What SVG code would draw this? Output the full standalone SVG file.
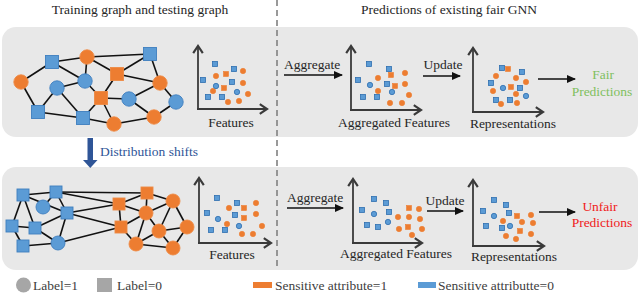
<svg xmlns="http://www.w3.org/2000/svg" xmlns:xlink="http://www.w3.org/1999/xlink" width="640" height="294" viewBox="0 0 640 294">
<style>
text{font-family:"Liberation Serif","Times New Roman",serif;font-size:13.5px;fill:#262626}
.panel{fill:#e8e8e8}
.edge{stroke:#111;stroke-width:1.6}
.axis{stroke:#3a3a3a;stroke-width:1.8;fill:none;marker-end:url(#ax)}
.flow{stroke:#111;stroke-width:1.6;marker-end:url(#fh)}
.nb{fill:#5b9bd5;stroke:#3f7fbf;stroke-width:0.9}
.no{fill:#ed7d31;stroke:#ee8a45;stroke-width:0.9}
.pb{fill:#5b9bd5;stroke:#2e6fb0;stroke-width:0.8}
.po{fill:#ed7d31;stroke:#ed7d31;stroke-width:0.6}
.mid{text-anchor:middle}
.leg{fill:#404040}
</style>
<defs>
<marker id="ax" markerUnits="userSpaceOnUse" markerWidth="12" markerHeight="12" refX="7" refY="5" orient="auto" viewBox="0 0 10 10">
<path d="M1,1 L7,5 L1,9" fill="none" stroke="#3a3a3a" stroke-width="1.8"/>
</marker>
<marker id="fh" markerUnits="userSpaceOnUse" markerWidth="9" markerHeight="9" refX="8" refY="4.5" orient="auto" viewBox="0 0 9 9">
<path d="M0,0.5 L9,4.5 L0,8.5 Z" fill="#111"/>
</marker>
</defs>

<rect class="panel" x="2" y="27" width="636" height="110" rx="14"/>
<rect class="panel" x="2" y="167" width="636" height="103" rx="14"/>
<line x1="277" y1="0" x2="277" y2="266" stroke="#808080" stroke-width="1.6" stroke-dasharray="6 4"/>

<text class="mid" x="140" y="14">Training graph and testing graph</text>
<text class="mid" x="449" y="14">Predictions of existing fair GNN</text>

<g id="connectors">
<!-- top graph edges -->
<line class="edge" x1="21" y1="82" x2="52" y2="62"/>
<line class="edge" x1="21" y1="82" x2="38" y2="112"/>
<line class="edge" x1="52" y1="62" x2="87" y2="57"/>
<line class="edge" x1="52" y1="62" x2="85" y2="81"/>
<line class="edge" x1="87" y1="57" x2="150" y2="54"/>
<line class="edge" x1="87" y1="57" x2="85" y2="81"/>
<line class="edge" x1="87" y1="57" x2="117" y2="74"/>
<line class="edge" x1="150" y1="54" x2="117" y2="74"/>
<line class="edge" x1="150" y1="54" x2="160" y2="83"/>
<line class="edge" x1="117" y1="74" x2="160" y2="83"/>
<line class="edge" x1="117" y1="74" x2="101" y2="98"/>
<line class="edge" x1="57" y1="88" x2="85" y2="81"/>
<line class="edge" x1="57" y1="88" x2="38" y2="112"/>
<line class="edge" x1="57" y1="88" x2="83" y2="118"/>
<line class="edge" x1="85" y1="81" x2="101" y2="98"/>
<line class="edge" x1="101" y1="98" x2="83" y2="118"/>
<line class="edge" x1="101" y1="98" x2="114" y2="124"/>
<line class="edge" x1="101" y1="98" x2="129" y2="99"/>
<line class="edge" x1="129" y1="99" x2="160" y2="83"/>
<line class="edge" x1="129" y1="99" x2="154" y2="117"/>
<line class="edge" x1="160" y1="83" x2="176" y2="102"/>
<line class="edge" x1="176" y1="102" x2="154" y2="117"/>
<line class="edge" x1="154" y1="117" x2="114" y2="124"/>
<line class="edge" x1="83" y1="118" x2="114" y2="124"/>
<line class="edge" x1="38" y1="112" x2="83" y2="118"/>
<!-- bottom graph edges -->
<line class="edge" x1="23" y1="195" x2="56" y2="192"/>
<line class="edge" x1="23" y1="195" x2="67" y2="213"/>
<line class="edge" x1="43" y1="207" x2="56" y2="192"/>
<line class="edge" x1="56" y1="192" x2="67" y2="213"/>
<line class="edge" x1="23" y1="195" x2="12" y2="226"/>
<line class="edge" x1="23" y1="195" x2="35" y2="228"/>
<line class="edge" x1="12" y1="226" x2="35" y2="228"/>
<line class="edge" x1="12" y1="226" x2="23" y2="246"/>
<line class="edge" x1="35" y1="228" x2="67" y2="213"/>
<line class="edge" x1="35" y1="228" x2="58" y2="243"/>
<line class="edge" x1="67" y1="213" x2="58" y2="243"/>
<line class="edge" x1="23" y1="246" x2="58" y2="243"/>
<line class="edge" x1="56" y1="192" x2="147" y2="193"/>
<line class="edge" x1="56" y1="192" x2="119" y2="204"/>
<line class="edge" x1="67" y1="213" x2="119" y2="204"/>
<line class="edge" x1="67" y1="213" x2="121" y2="227"/>
<line class="edge" x1="58" y1="243" x2="121" y2="227"/>
<line class="edge" x1="119" y1="204" x2="147" y2="193"/>
<line class="edge" x1="119" y1="204" x2="121" y2="227"/>
<line class="edge" x1="119" y1="204" x2="146" y2="213"/>
<line class="edge" x1="147" y1="193" x2="146" y2="213"/>
<line class="edge" x1="147" y1="193" x2="173" y2="201"/>
<line class="edge" x1="121" y1="227" x2="146" y2="213"/>
<line class="edge" x1="146" y1="213" x2="173" y2="201"/>
<line class="edge" x1="146" y1="213" x2="159" y2="231"/>
<line class="edge" x1="173" y1="201" x2="159" y2="231"/>
<line class="edge" x1="173" y1="201" x2="187" y2="227"/>
<line class="edge" x1="159" y1="231" x2="187" y2="227"/>
<line class="edge" x1="121" y1="227" x2="136" y2="244"/>
<line class="edge" x1="146" y1="213" x2="136" y2="244"/>
<line class="edge" x1="136" y1="244" x2="173" y2="248"/>
<line class="edge" x1="136" y1="244" x2="159" y2="231"/>
<line class="edge" x1="159" y1="231" x2="173" y2="248"/>
<line class="edge" x1="173" y1="248" x2="187" y2="227"/>
<!-- flow arrows -->
<line class="flow" x1="284" y1="75" x2="342" y2="75"/>
<line class="flow" x1="423" y1="76" x2="460" y2="76"/>
<line class="flow" x1="538" y1="79" x2="575" y2="79"/>
<line class="flow" x1="287" y1="208" x2="343" y2="208"/>
<line class="flow" x1="427" y1="211" x2="463" y2="211"/>
<line class="flow" x1="539" y1="212" x2="575" y2="212"/>
<!-- distribution shift arrow -->
<path d="M87.5,138 H93 V160 H97.5 L90.25,168 L83,160 H87.5 Z" fill="#2f5597"/>
</g>

<!-- top graph nodes -->
<g id="t-o1"><circle class="no" cx="21" cy="82" r="7.2"/></g>
<g id="t-b1"><rect class="nb" x="45.5" y="55.5" width="13" height="13"/></g>
<g id="t-o2"><circle class="no" cx="87" cy="57" r="7.2"/></g>
<g id="t-b2"><rect class="nb" x="143.5" y="47.5" width="13" height="13"/></g>
<g id="t-c1"><circle class="nb" cx="57" cy="88" r="7.2"/></g>
<g id="t-c2"><circle class="nb" cx="85" cy="81" r="7.2"/></g>
<g id="t-os1"><rect class="no" x="110.5" y="67.5" width="13" height="13"/></g>
<g id="t-o3"><circle class="no" cx="160" cy="83" r="7.2"/></g>
<g id="t-os2"><rect class="no" x="94.5" y="91.5" width="13" height="13"/></g>
<g id="t-c3"><circle class="nb" cx="129" cy="99" r="7.2"/></g>
<g id="t-c4"><circle class="nb" cx="176" cy="102" r="7.2"/></g>
<g id="t-b3"><rect class="nb" x="31.5" y="105.5" width="13" height="13"/></g>
<g id="t-b4"><rect class="nb" x="76.5" y="111.5" width="13" height="13"/></g>
<g id="t-o4"><circle class="no" cx="114" cy="124" r="7.2"/></g>
<g id="t-o5"><circle class="no" cx="154" cy="117" r="7.2"/></g>

<!-- bottom graph nodes -->
<g id="b-bs1"><rect class="nb" x="17" y="189" width="12" height="12"/></g>
<g id="b-bs2"><rect class="nb" x="50" y="186" width="12" height="12"/></g>
<g id="b-bc1"><circle class="nb" cx="43" cy="207" r="7"/></g>
<g id="b-bs3"><rect class="nb" x="61" y="207" width="12" height="12"/></g>
<g id="b-bs4"><rect class="nb" x="6" y="220" width="12" height="12"/></g>
<g id="b-bs5"><rect class="nb" x="29" y="222" width="12" height="12"/></g>
<g id="b-bs6"><rect class="nb" x="17" y="240" width="12" height="12"/></g>
<g id="b-bc2"><circle class="nb" cx="58" cy="243" r="7"/></g>
<g id="b-os1"><rect class="no" x="113" y="198" width="12" height="12"/></g>
<g id="b-os2"><rect class="no" x="141" y="187" width="12" height="12"/></g>
<g id="b-os3"><rect class="no" x="115" y="221" width="12" height="12"/></g>
<g id="b-oc1"><circle class="no" cx="173" cy="201" r="7"/></g>
<g id="b-oc2"><circle class="no" cx="146" cy="213" r="7"/></g>
<g id="b-oc3"><circle class="no" cx="159" cy="231" r="7"/></g>
<g id="b-oc4"><circle class="no" cx="187" cy="227" r="7"/></g>
<g id="b-oc5"><circle class="no" cx="136" cy="244" r="7"/></g>
<g id="b-oc6"><circle class="no" cx="173" cy="248" r="7"/></g>

<!-- top features plot -->
<g id="t-features">
<line class="axis" x1="198" y1="109" x2="198" y2="46"/>
<line class="axis" x1="197" y1="109" x2="267" y2="109"/>
<rect class="pb" x="212.5" y="61.5" width="5" height="5"/><rect class="pb" x="231.5" y="66.5" width="5" height="5"/><rect class="pb" x="200.5" y="77.5" width="5" height="5"/><rect class="pb" x="229.5" y="79.5" width="5" height="5"/><rect class="pb" x="205.5" y="94.5" width="5" height="5"/><rect class="pb" x="219.5" y="94.5" width="5" height="5"/>
<rect class="po" x="223.5" y="71.5" width="5" height="5"/><rect class="po" x="221.5" y="85.5" width="5" height="5"/>
<circle class="po" cx="243" cy="71" r="2.7"/><circle class="po" cx="216" cy="76" r="2.7"/><circle class="po" cx="243" cy="83" r="2.7"/><circle class="po" cx="213" cy="91" r="2.7"/><circle class="po" cx="248" cy="94" r="2.7"/><circle class="po" cx="228" cy="102" r="2.7"/><circle class="po" cx="239" cy="101" r="2.7"/>
<circle class="pb" cx="216" cy="86" r="2.7"/><circle class="pb" cx="237" cy="92" r="2.7"/>
<text class="mid" x="231" y="127">Features</text>
</g>

<g id="t-aggregated">
<line class="axis" x1="351" y1="110" x2="351" y2="46"/>
<line class="axis" x1="350" y1="110" x2="421" y2="110"/>
<rect class="pb" x="366.5" y="61.5" width="5" height="5"/><rect class="pb" x="386.5" y="66.5" width="5" height="5"/><rect class="pb" x="355.5" y="77.5" width="5" height="5"/><rect class="pb" x="384.5" y="81.5" width="5" height="5"/><rect class="pb" x="360.5" y="94.5" width="5" height="5"/><rect class="pb" x="374.5" y="94.5" width="5" height="5"/>
<rect class="po" x="388.5" y="72.5" width="5" height="5"/><rect class="po" x="392.5" y="83.5" width="5" height="5"/>
<circle class="po" cx="405" cy="73" r="2.7"/><circle class="po" cx="378" cy="78" r="2.7"/><circle class="po" cx="405" cy="84" r="2.7"/><circle class="po" cx="378" cy="91" r="2.7"/><circle class="po" cx="409" cy="95" r="2.7"/><circle class="po" cx="390" cy="103" r="2.7"/><circle class="po" cx="402" cy="103" r="2.7"/>
<circle class="pb" cx="370" cy="85" r="2.7"/><circle class="pb" cx="392" cy="92" r="2.7"/>
<text class="mid" x="394" y="127">Aggregated Features</text>
</g>

<g id="t-representations">
<line class="axis" x1="473" y1="112" x2="473" y2="48"/>
<line class="axis" x1="472" y1="112" x2="543" y2="112"/>
<rect class="pb" x="499.5" y="65.5" width="5" height="5"/><rect class="pb" x="519.5" y="69.5" width="5" height="5"/><rect class="pb" x="488.5" y="80.5" width="5" height="5"/><rect class="pb" x="517.5" y="85.5" width="5" height="5"/><rect class="pb" x="493.5" y="97.5" width="5" height="5"/><rect class="pb" x="507.5" y="97.5" width="5" height="5"/>
<rect class="po" x="505.5" y="66.5" width="5" height="5"/><rect class="po" x="508.5" y="84.5" width="5" height="5"/>
<circle class="po" cx="496" cy="76" r="2.7"/><circle class="po" cx="516" cy="78" r="2.7"/><circle class="po" cx="526" cy="82" r="2.7"/><circle class="po" cx="493" cy="91" r="2.7"/><circle class="po" cx="516" cy="94" r="2.7"/><circle class="po" cx="501" cy="104" r="2.7"/><circle class="po" cx="517" cy="103" r="2.7"/>
<circle class="pb" cx="503" cy="88" r="2.7"/><circle class="pb" cx="526" cy="96" r="2.7"/>
<text class="mid" x="513" y="128">Representations</text>
</g>

<g id="b-features">
<line class="axis" x1="199" y1="243" x2="199" y2="178"/>
<line class="axis" x1="198" y1="243" x2="271" y2="243"/>
<rect class="pb" x="214.5" y="195.5" width="5" height="5"/><rect class="pb" x="234.5" y="200.5" width="5" height="5"/><rect class="pb" x="204.5" y="210.5" width="5" height="5"/><rect class="pb" x="232.5" y="212.5" width="5" height="5"/><rect class="pb" x="208.5" y="227.5" width="5" height="5"/><rect class="pb" x="222.5" y="227.5" width="5" height="5"/>
<rect class="po" x="241.5" y="205.5" width="5" height="5"/><rect class="po" x="241.5" y="215.5" width="5" height="5"/>
<circle class="po" cx="256" cy="203" r="2.7"/><circle class="po" cx="229" cy="208" r="2.7"/><circle class="po" cx="256" cy="214" r="2.7"/><circle class="po" cx="227" cy="224" r="2.7"/><circle class="po" cx="262" cy="226" r="2.7"/><circle class="po" cx="242" cy="234" r="2.7"/><circle class="po" cx="253" cy="234" r="2.7"/>
<circle class="pb" cx="218" cy="219" r="2.7"/><circle class="pb" cx="239" cy="226" r="2.7"/>
<text class="mid" x="232" y="259">Features</text>
</g>

<g id="b-aggregated">
<line class="axis" x1="353" y1="243" x2="353" y2="179"/>
<line class="axis" x1="352" y1="243" x2="422" y2="243"/>
<rect class="pb" x="371.5" y="196.5" width="5" height="5"/><rect class="pb" x="383.5" y="200.5" width="5" height="5"/><rect class="pb" x="359.5" y="207.5" width="5" height="5"/><rect class="pb" x="386.5" y="209.5" width="5" height="5"/><rect class="pb" x="364.5" y="222.5" width="5" height="5"/><rect class="pb" x="375.5" y="224.5" width="5" height="5"/>
<rect class="po" x="406.5" y="205.5" width="5" height="5"/><rect class="po" x="405.5" y="224.5" width="5" height="5"/>
<circle class="po" cx="419" cy="209" r="2.7"/><circle class="po" cx="398" cy="217" r="2.7"/><circle class="po" cx="409" cy="217" r="2.7"/><circle class="po" cx="420" cy="219" r="2.7"/><circle class="po" cx="399" cy="229" r="2.7"/><circle class="po" cx="422" cy="229" r="2.7"/><circle class="po" cx="412" cy="235" r="2.7"/>
<circle class="pb" cx="374" cy="214" r="2.7"/><circle class="pb" cx="388" cy="222" r="2.7"/>
<text class="mid" x="396" y="258">Aggregated Features</text>
</g>

<g id="b-representations">
<line class="axis" x1="473" y1="246" x2="473" y2="180"/>
<line class="axis" x1="472" y1="246" x2="544" y2="246"/>
<rect class="pb" x="491.5" y="197.5" width="5" height="5"/><rect class="pb" x="503.5" y="202.5" width="5" height="5"/><rect class="pb" x="480.5" y="208.5" width="5" height="5"/><rect class="pb" x="506.5" y="210.5" width="5" height="5"/><rect class="pb" x="483.5" y="223.5" width="5" height="5"/><rect class="pb" x="499.5" y="225.5" width="5" height="5"/>
<rect class="po" x="514.5" y="213.5" width="5" height="5"/><rect class="po" x="517.5" y="228.5" width="5" height="5"/>
<circle class="po" cx="531" cy="215" r="2.7"/><circle class="po" cx="503" cy="221" r="2.7"/><circle class="po" cx="522" cy="222" r="2.7"/><circle class="po" cx="533" cy="223" r="2.7"/><circle class="po" cx="506" cy="236" r="2.7"/><circle class="po" cx="516" cy="239" r="2.7"/><circle class="po" cx="531" cy="234" r="2.7"/>
<circle class="pb" cx="494" cy="216" r="2.7"/><circle class="pb" cx="510" cy="226" r="2.7"/>
<text class="mid" x="514" y="261">Representations</text>
</g>

<text x="284" y="69">Aggregate</text>
<text class="mid" x="443" y="69">Update</text>
<text x="287" y="202">Aggregate</text>
<text class="mid" x="445" y="205">Update</text>
<text x="100" y="156" style="fill:#2f5597">Distribution shifts</text>

<g id="fair">
<text class="mid" x="603" y="79" style="fill:#7fbf5e">Fair</text>
<text class="mid" x="602" y="96" style="fill:#7fbf5e">Predictions</text>
</g>
<g id="unfair">
<text class="mid" x="600" y="211" style="fill:#f02020">Unfair</text>
<text class="mid" x="602" y="227" style="fill:#f02020">Predictions</text>
</g>

<g id="legend">
<circle cx="23.5" cy="285" r="7.5" fill="#a6a6a6"/>
<text class="leg" x="33" y="290">Label=1</text>
<rect x="97" y="278" width="15" height="14" fill="#a6a6a6"/>
<text class="leg" x="117" y="290">Label=0</text>
<rect x="253" y="282" width="19" height="6" fill="#ed7d31"/>
<text class="leg" x="275" y="290">Sensitive attribute=1</text>
<rect x="418" y="282" width="18" height="6" fill="#5b9bd5"/>
<text class="leg" x="438" y="290">Sensitive attributte=0</text>
</g>
</svg>
